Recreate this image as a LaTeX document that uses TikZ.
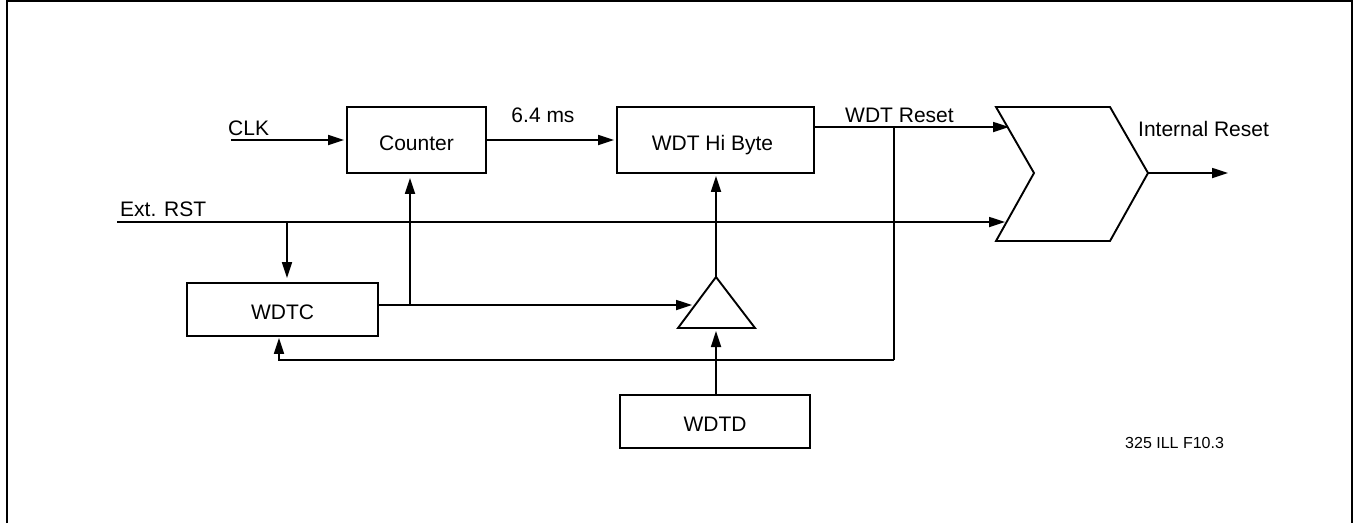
\documentclass[tikz,border=0pt]{standalone}
\usepackage{fontspec}
\setmainfont{Liberation Sans}
\usetikzlibrary{
    arrows.meta,
    positioning,
    calc
}
\tikzset{
    blockbox/.style={draw=black, line width=1.9pt, inner sep=0pt, text height=20pt, text depth=0pt, font=\fontsize{21pt}{25pt}\selectfont},
    gateline/.style={draw=black, line width=1.9pt, line join=miter},
    wire/.style={line width=1.7pt, -{Triangle[length=16pt,width=10pt]}},
    plainwire/.style={line width=1.7pt},
    sigtext/.style={font=\fontsize{21pt}{25pt}\selectfont, inner sep=0pt}
}
\begin{document}
\begin{tikzpicture}[x=1pt,y=-1pt]
    \useasboundingbox (0,0) rectangle (1356,523);
    \fill[white] (0,0) rectangle (1356,523);
    % outer frame
    \draw[line width=1.9pt] (7,523) -- (7,1) -- (1352,1) -- (1352,523);

    %% Blocks
    \node[blockbox, minimum width=139pt, minimum height=66pt] (counter) at (416.5,140) {Counter};
    \node[blockbox, minimum width=197pt, minimum height=66pt] (hibyte) at (715.5,140) {WDT Hi Byte\hspace*{6pt}};
    \node[blockbox, minimum width=191pt, minimum height=53pt] (wdtc) at (282.5,309.5) {WDTC};
    \node[blockbox, minimum width=190pt, minimum height=53pt] (wdtd) at (715,421.5) {WDTD};

    %% Free ends and joints
    \coordinate (clkin) at (231,140);
    \coordinate (rstin) at (117,222);
    \coordinate (rsttap) at (287,222);
    \coordinate (rstend) at (1005,222);
    \coordinate (resetin) at (1009,127);
    \coordinate (resetnode) at (894,127);
    \coordinate (gatebl) at (678,328);
    \coordinate (gatebr) at (755,328);
    \coordinate (gatetop) at (716,277);
    \coordinate (gateleft) at (692,305);
    \coordinate (ctap) at (410,305);
    \coordinate (backcorner) at (894,360);
    \coordinate (backend) at (279,360);
    \coordinate (muxtip) at (1148,173);
    \coordinate (intout) at (1228,173);

    %% Triangle and mux
    \draw[gateline] (gatebl) -- (gatetop) -- (gatebr) -- cycle;
    \draw[gateline] (996,107) -- (1110,107) -- (muxtip) -- (1110,241) -- (996,241) -- (1034,173) -- cycle;

    %% Connectors
    \draw[wire, shorten >=2pt] (clkin) -- (counter.west |- clkin);
    \draw[wire, shorten >=2pt] (counter.east) -- (hibyte.west);
    \draw[wire] (hibyte.east |- resetin) -- (resetin);
    \draw[wire] (rstin) -- (rstend);
    \draw[wire, shorten >=4pt] (rsttap) -- (rsttap |- wdtc.north);
    \draw[wire, shorten >=4pt] (ctap) -- (ctap |- counter.south);
    \draw[wire] (wdtc.east |- gateleft) -- (gateleft);
    \draw[wire, shorten >=2pt] (gatetop) -- (gatetop |- hibyte.south);
    \draw[wire, shorten >=3pt] (wdtd.north -| gatetop) -- (gatetop |- gatebl);
    \draw[plainwire] (resetnode) -- (backcorner);
    \draw[wire, shorten >=1pt] (backcorner) -- (backend) -- (backend |- wdtc.south);
    \draw[wire] (muxtip) -- (intout);

    %% Labels
    \node[sigtext, anchor=base west] (clklabel) at (228,135) {CLK};
    \node[sigtext, anchor=base west] (extlabel) at (120,216) {Ext. RST};
    \node[sigtext, anchor=base] (timelabel) at (543,122) {6.4 ms};
    \node[sigtext, anchor=base west] (resetlabel) at (845,122) {WDT Reset};
    \node[sigtext, anchor=base west] (intlabel) at (1138,136) {Internal Reset};
    \node[sigtext, anchor=base west, font=\fontsize{16pt}{18pt}\selectfont] (figlabel) at (1125,448) {325 ILL F10.3};
\end{tikzpicture}
\end{document}
